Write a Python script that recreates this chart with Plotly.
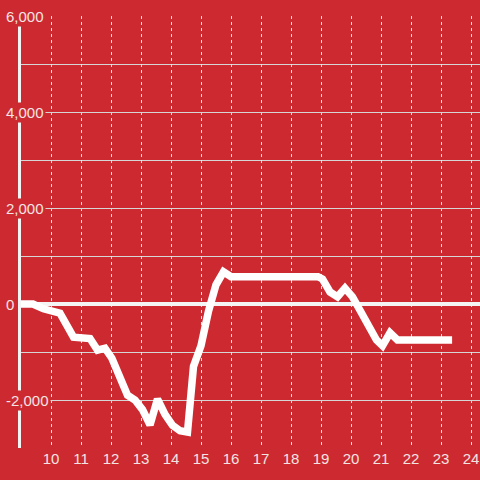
import plotly.graph_objects as go

hours = [9.0, 9.4, 9.75, 10.3, 10.75, 11.3, 11.55, 11.8, 12.03, 12.3, 12.55, 12.8,
         13.05, 13.3, 13.55, 13.8, 14.05, 14.3, 14.55, 14.75, 15.0, 15.25, 15.5,
         15.75, 16.0, 18.9, 19.05, 19.3, 19.55, 19.8, 20.05, 20.3, 20.55, 20.85,
         21.05, 21.3, 21.55, 21.75, 23.37]
values = [0, 0, -100, -190, -690, -720, -960, -920, -1130, -1550, -1900, -2000,
          -2200, -2520, -1980, -2300, -2530, -2640, -2670, -1300, -870, -150, 400,
          670, 570, 570, 520, 250, 150, 330, 150, -130, -400, -750,
          -870, -600, -750, -750, -750]

x_ticks = list(range(10, 25))
y_ticks = [-2000, 0, 2000, 4000, 6000]
y_tick_labels = ["-2,000", "0", "2,000", "4,000", "6,000"]

BG = "#cc2a30"
TXT = "#f3e4e4"
FONT = "Liberation Sans, Arial, sans-serif"

fig = go.Figure()
fig.add_trace(go.Scatter(x=hours, y=values, mode="lines",
                         line=dict(color="white", width=7.5),
                         hoverinfo="skip", showlegend=False))

fig.update_layout(
    width=480, height=480,
    margin=dict(l=21, r=0, t=16, b=32, autoexpand=False),
    paper_bgcolor=BG, plot_bgcolor=BG,
    font=dict(family=FONT, size=15, color=TXT),
    showlegend=False,
)
fig.update_xaxes(range=[9, 24.3], tickvals=x_ticks, ticktext=[str(t) for t in x_ticks],
                 tickfont=dict(family=FONT, size=15, color=TXT),
                 showgrid=True, gridcolor="#e8e8e8", griddash="dot", gridwidth=1,
                 zeroline=False, showline=False, ticks="", automargin=False,
                 fixedrange=True)
fig.update_yaxes(range=[-3000, 6000], tickvals=y_ticks, showticklabels=False,
                 showgrid=True, gridcolor="#d6d6d6", gridwidth=1,
                 minor=dict(dtick=1000, tick0=0, showgrid=True, gridcolor="#d6d6d6", gridwidth=1),
                 zeroline=True, zerolinecolor="#f4f4f4", zerolinewidth=4,
                 showline=True, linecolor="#f4f4f4", linewidth=3,
                 ticks="", automargin=False, fixedrange=True)

for v, lab in zip(y_ticks, y_tick_labels):
    fig.add_annotation(x=0, xref="paper", y=v, yref="y", text=lab,
                       showarrow=False, xanchor="left", yanchor="middle",
                       xshift=-17, bgcolor=BG, borderpad=1,
                       font=dict(family=FONT, size=15, color=TXT))

fig.write_html("out.html", config={"displayModeBar": False},
               post_script="document.body.style.margin='0';document.body.style.overflow='hidden';")
